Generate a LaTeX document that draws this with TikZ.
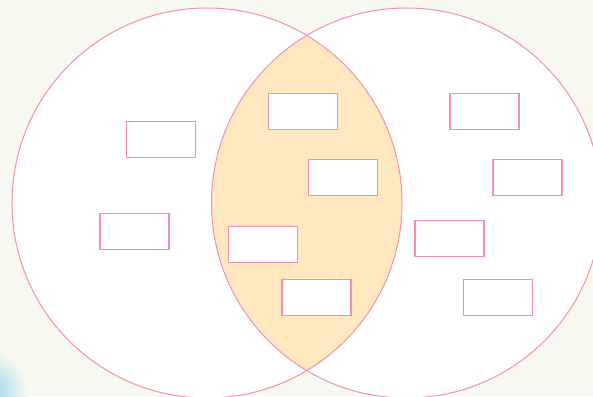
\documentclass[tikz,border=0pt]{standalone}
\usetikzlibrary{positioning}
\definecolor{bg}{HTML}{F7F9F0}
\definecolor{pinkline}{HTML}{F48FB1}
\definecolor{lens}{HTML}{FFE8C0}
\definecolor{blob}{HTML}{8FD3EC}
\tikzset{
  box/.style={draw=pinkline, fill=white, line width=1.3pt, minimum width=69pt, minimum height=36pt, inner sep=0pt},
  ring/.style={draw=pinkline, line width=1pt}
}
\begin{document}
\begin{tikzpicture}[x=1pt,y=-1pt]
\useasboundingbox (0,0) rectangle (593,396);
\fill[bg] (0,0) rectangle (593,396);
\begin{scope}
\clip (0,0) rectangle (593,396);
\shade[inner color=blob, outer color=bg] (-14,392) circle[radius=42pt];
\coordinate (cl) at (207,203);
\coordinate (cr) at (406.5,203);
\fill[white] (cl) circle[radius=195pt];
\fill[white] (cr) circle[radius=195pt];
\begin{scope}
\clip (cl) circle[radius=195pt];
\fill[lens] (cr) circle[radius=195pt];
\end{scope}
\draw[ring] (cl) circle[radius=195pt];
\draw[ring] (cr) circle[radius=195pt];
\end{scope}
\node[box] (b1) at (161,139.6) {};
\node[box] (b2) at (303,111.3) {};
\node[box] (b3) at (484.5,111.3) {};
\node[box] (b4) at (342.7,177.6) {};
\node[box] (b5) at (527.5,177.6) {};
\node[box] (b6) at (134.6,231.4) {};
\node[box] (b7) at (262.8,244.4) {};
\node[box] (b8) at (449.5,238.5) {};
\node[box] (b9) at (316.4,297.4) {};
\node[box] (b10) at (497.8,297.4) {};
\end{tikzpicture}
\end{document}
